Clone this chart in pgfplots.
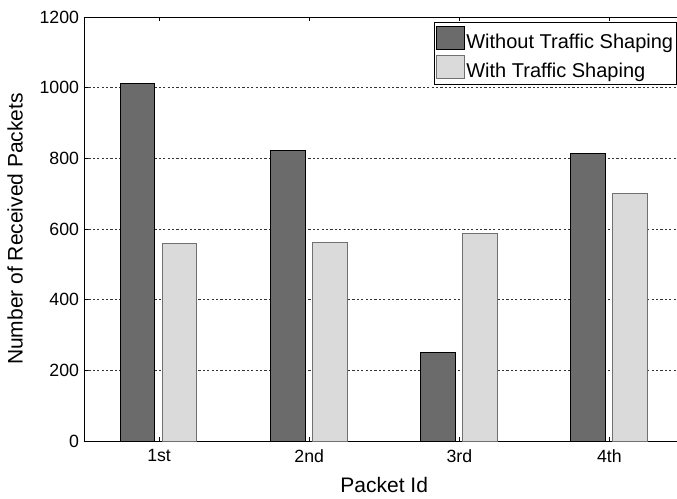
\documentclass[border=0pt]{standalone}
\usepackage{pgfplots}
\pgfplotsset{compat=1.18}
\usepackage{fontspec}
\setmainfont{Liberation Sans}
\definecolor{darkbar}{HTML}{6B6B6B}
\definecolor{lightbar}{HTML}{DADADA}
\definecolor{lightedge}{HTML}{707070}
\newcommand{\legfont}{\fontsize{20}{23}\selectfont}
\begin{document}
\begin{tikzpicture}
\begin{axis}[
  at={(0,0)}, anchor=south west,
  scale only axis,
  width=593pt, height=424pt,
  xmin=0.5, xmax=4.45,
  ymin=0, ymax=1200,
  axis y line*=left,
  axis line style={line width=0.8pt, black},
  xtick={1,2,3,4},
  xticklabels={1st,2nd,3rd,4th},
  ytick={0,200,400,600,800,1000,1200},
  /pgf/number format/1000 sep={},
  tick align=inside,
  major tick length=4pt,
  tick style={black, line width=0.6pt},
  xtick pos=both,
  ymajorgrids,
  major grid style={black!80, dash pattern=on 2.2pt off 2.2pt, line width=0.6pt},
  /pgf/number format/assume math mode=true,
  ticklabel style={font=\fontsize{17.7}{21}\selectfont},
  xticklabel style={yshift=-5pt},
  yticklabel style={xshift=-1.5pt},
  xlabel={Packet Id},
  ylabel={Number of Received Packets},
  label style={font=\fontsize{21}{25}\selectfont},
  xlabel style={at={(axis cs:2.5,0)}, yshift=-44pt, anchor=center},
  ylabel style={at={(axis description cs:0,0.5)}, yshift=69pt, anchor=center},
  legend style={at={(1,1)}, anchor=north east, yshift=-5pt,
    draw=black, line width=0.8pt, font=\legfont,
    inner xsep=2pt, inner ysep=3.5pt, row sep=4pt,
    nodes={inner sep=1.5pt},
    cells={anchor=west}},
  legend image code/.code={\draw[#1, line width=0.6pt] (0pt,-7.5pt) rectangle (28pt,15.5pt);},
  legend cell align=left,
]
\addplot[ybar, bar width=0.23, bar shift=-0.143, fill=darkbar, draw=black, line width=0.8pt]
  coordinates {(1,1011) (2,823) (3,251) (4,814)};
\addlegendentry{\legfont Without Traffic Shaping\hspace{12pt}}
\addplot[ybar, bar width=0.23, bar shift=0.137, fill=lightbar, draw=lightedge, line width=0.8pt]
  coordinates {(1,559) (2,562) (3,588) (4,700)};
\addlegendentry{\legfont With Traffic Shaping\hspace{12pt}}
\end{axis}
\pgfresetboundingbox
\useasboundingbox (-84pt,-57pt) rectangle (593pt,441pt);
\end{tikzpicture}
\end{document}
